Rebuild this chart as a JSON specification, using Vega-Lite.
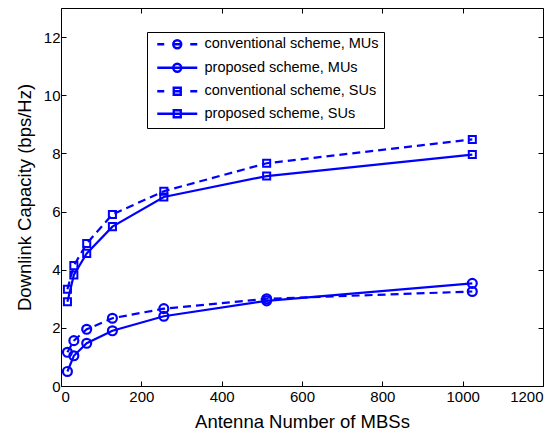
{
  "$schema": "https://vega.github.io/schema/vega-lite/v6.json",
  "width": 482,
  "height": 378,
  "autosize": {"type": "none"},
  "padding": {"left": 61, "top": 8, "right": 17, "bottom": 47},
  "background": "white",
  "config": {
    "view": {"stroke": "black", "strokeWidth": 1},
    "font": "Liberation Sans",
    "axis": {
      "grid": false,
      "domain": false,
      "tickSize": -5,
      "tickColor": "black",
      "tickWidth": 1,
      "labelColor": "black",
      "labelFont": "Liberation Sans",
      "labelFontSize": 15,
      "titleColor": "black",
      "titleFont": "Liberation Sans",
      "titleFontSize": 18.5,
      "titleFontWeight": "normal",
      "format": "d"
    },
    "legend": {
      "strokeColor": "black",
      "fillColor": "white",
      "padding": 5,
      "symbolSize": 100,
      "symbolOffset": 18,
      "labelOffset": 20,
      "labelFont": "Liberation Sans",
      "labelFontSize": 14.5,
      "labelColor": "black",
      "rowPadding": 4.5,
      "labelLimit": 400
    }
  },
  "data": {
    "values": [
      {"N": 16, "capacity": 1.16, "series": "conventional scheme, MUs"},
      {"N": 32, "capacity": 1.56, "series": "conventional scheme, MUs"},
      {"N": 64, "capacity": 1.95, "series": "conventional scheme, MUs"},
      {"N": 128, "capacity": 2.33, "series": "conventional scheme, MUs"},
      {"N": 256, "capacity": 2.66, "series": "conventional scheme, MUs"},
      {"N": 512, "capacity": 3.0, "series": "conventional scheme, MUs"},
      {"N": 1024, "capacity": 3.25, "series": "conventional scheme, MUs"},
      {"N": 16, "capacity": 0.5, "series": "proposed scheme, MUs"},
      {"N": 32, "capacity": 1.04, "series": "proposed scheme, MUs"},
      {"N": 64, "capacity": 1.47, "series": "proposed scheme, MUs"},
      {"N": 128, "capacity": 1.9, "series": "proposed scheme, MUs"},
      {"N": 256, "capacity": 2.4, "series": "proposed scheme, MUs"},
      {"N": 512, "capacity": 2.93, "series": "proposed scheme, MUs"},
      {"N": 1024, "capacity": 3.53, "series": "proposed scheme, MUs"},
      {"N": 16, "capacity": 3.33, "series": "conventional scheme, SUs"},
      {"N": 32, "capacity": 4.14, "series": "conventional scheme, SUs"},
      {"N": 64, "capacity": 4.9, "series": "conventional scheme, SUs"},
      {"N": 128, "capacity": 5.9, "series": "conventional scheme, SUs"},
      {"N": 256, "capacity": 6.7, "series": "conventional scheme, SUs"},
      {"N": 512, "capacity": 7.66, "series": "conventional scheme, SUs"},
      {"N": 1024, "capacity": 8.48, "series": "conventional scheme, SUs"},
      {"N": 16, "capacity": 2.9, "series": "proposed scheme, SUs"},
      {"N": 32, "capacity": 3.82, "series": "proposed scheme, SUs"},
      {"N": 64, "capacity": 4.56, "series": "proposed scheme, SUs"},
      {"N": 128, "capacity": 5.48, "series": "proposed scheme, SUs"},
      {"N": 256, "capacity": 6.5, "series": "proposed scheme, SUs"},
      {"N": 512, "capacity": 7.22, "series": "proposed scheme, SUs"},
      {"N": 1024, "capacity": 7.96, "series": "proposed scheme, SUs"}
    ]
  },
  "resolve": {"axis": {"x": "independent", "y": "independent"}},
  "layer": [
    {
      "transform": [{"filter": {"field": "series", "oneOf": ["conventional scheme, MUs", "conventional scheme, SUs"]}}],
      "mark": {"type": "line", "strokeWidth": 2.2, "color": "#0000ff", "strokeDash": [8, 5]},
      "encoding": {
        "x": {"field": "N", "type": "quantitative", "scale": {"domain": [0, 1200], "nice": false}, "axis": null},
        "y": {"field": "capacity", "type": "quantitative", "scale": {"domain": [0, 13], "nice": false}, "axis": null},
        "detail": {"field": "series", "type": "nominal"}
      }
    },
    {
      "transform": [{"filter": {"field": "series", "oneOf": ["proposed scheme, MUs", "proposed scheme, SUs"]}}],
      "mark": {"type": "line", "strokeWidth": 2.2, "color": "#0000ff"},
      "encoding": {
        "x": {"field": "N", "type": "quantitative", "axis": null},
        "y": {"field": "capacity", "type": "quantitative", "axis": null},
        "detail": {"field": "series", "type": "nominal"}
      }
    },
    {
      "transform": [{"filter": {"field": "series", "oneOf": ["conventional scheme, MUs", "proposed scheme, MUs"]}}],
      "mark": {"type": "point", "shape": "circle", "size": 80, "filled": false, "strokeWidth": 2.2, "opacity": 1},
      "encoding": {
        "x": {"field": "N", "type": "quantitative", "axis": {"orient": "bottom", "values": [0, 200, 400, 600, 800, 1000, 1200], "labelPadding": 8, "title": "Antenna Number of MBSs", "titlePadding": 8}},
        "y": {"field": "capacity", "type": "quantitative", "axis": {"orient": "left", "values": [0, 2, 4, 6, 8, 10, 12], "labelPadding": 6, "title": "Downlink Capacity (bps/Hz)", "titlePadding": 9}},
        "color": {
          "field": "series", "type": "nominal",
          "scale": {"domain": ["conventional scheme, MUs", "proposed scheme, MUs", "conventional scheme, SUs", "proposed scheme, SUs"], "range": ["#0000ff", "#0000ff", "#0000ff", "#0000ff"]},
          "legend": {
            "title": null,
            "orient": "none",
            "legendX": 86,
            "legendY": 24,
            "symbolStrokeWidth": 2.4,
            "symbolType": {"expr": "datum.value === 'conventional scheme, MUs' ? 'M-4,0H-2.6M2.6,0H4M-0.8,0H0.8M-0.8,0A0.8,0.8 0 1 1 0.8,0A0.8,0.8 0 1 1 -0.8,0' : datum.value === 'proposed scheme, MUs' ? 'M-4,0H4M-0.8,0A0.8,0.8 0 1 1 0.8,0A0.8,0.8 0 1 1 -0.8,0' : datum.value === 'conventional scheme, SUs' ? 'M-4,0H-2.6M2.6,0H4M-0.7,0H0.7M-0.7,-0.7H0.7V0.7H-0.7Z' : 'M-4,0H4M-0.7,-0.7H0.7V0.7H-0.7Z'"},
            "encode": {
              "symbols": {
                "strokeWidth": {"value": 2.4},
                "fill": {"value": "transparent"},
                "size": {"value": 100},
                "opacity": {"value": 1}
              }
            }
          }
        }
      }
    },
    {
      "transform": [{"filter": {"field": "series", "oneOf": ["conventional scheme, SUs", "proposed scheme, SUs"]}}],
      "mark": {"type": "point", "shape": "square", "size": 50, "filled": false, "strokeWidth": 2, "color": "#0000ff", "opacity": 1},
      "encoding": {
        "x": {"field": "N", "type": "quantitative", "axis": null},
        "y": {"field": "capacity", "type": "quantitative", "axis": null}
      }
    },
    {
      "mark": {"type": "point", "opacity": 0},
      "encoding": {
        "x": {"field": "N", "type": "quantitative", "axis": {"orient": "top", "values": [0, 200, 400, 600, 800, 1000, 1200], "labels": false, "title": null}},
        "y": {"field": "capacity", "type": "quantitative", "axis": {"orient": "right", "values": [0, 2, 4, 6, 8, 10, 12], "labels": false, "title": null}}
      }
    }
  ]
}
